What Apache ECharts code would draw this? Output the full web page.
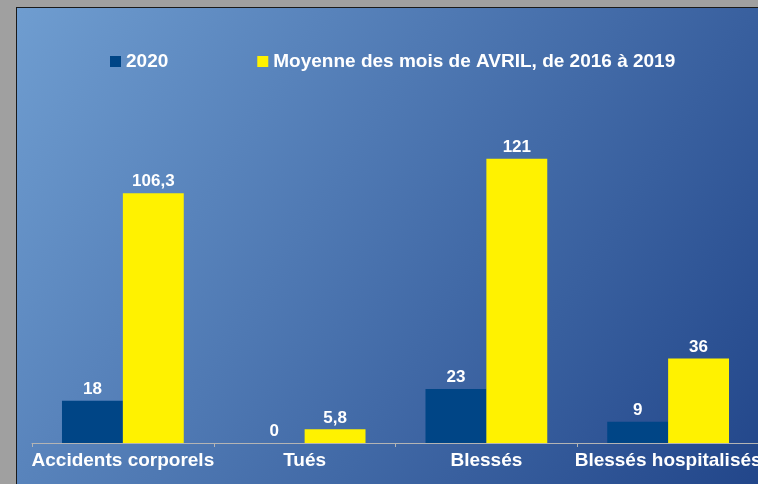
<!DOCTYPE html>
<html>
<head>
<meta charset="utf-8">
<script src="https://cdn.jsdelivr.net/npm/echarts@6/dist/echarts.min.js"></script>
<style>
  html, body { margin: 0; padding: 0; background: #a0a0a0; }
  #frame {
    position: absolute; left: 16px; top: 7px;
    width: 742px; height: 477px;
    border-left: 1px solid #1a1a1a; border-top: 1px solid #1a1a1a;
  }
  #chart { width: 742px; height: 477px; }
</style>
</head>
<body>
<div id="frame"><div id="chart"></div></div>
<script>
const categories = ['Accidents corporels', 'Tués', 'Blessés', 'Blessés hospitalisés'];
const values2020 = [18, 0, 23, 9];
const valuesAvg = [106.3, 5.8, 121, 36];
const seriesNames = ['2020', 'Moyenne des mois de AVRIL, de 2016 à 2019'];

const chart = echarts.init(document.getElementById('chart'));
const font = '"Liberation Sans", Arial, sans-serif';

const labelStyle = {
  show: true,
  position: 'top',
  distance: 3,
  color: '#ffffff',
  fontFamily: font,
  fontWeight: 'bold',
  fontSize: 17,
  formatter: p => String(p.value).replace('.', ',')
};

const option = {
  animation: false,
  backgroundColor: new echarts.graphic.LinearGradient(0, 0, 1, 1, [
    { offset: 0, color: '#6f9dd0' },
    { offset: 1, color: '#22468a' }
  ]),
  legend: {
    data: seriesNames,
    left: 88,
    top: 39,
    itemWidth: 11,
    itemHeight: 11,
    itemGap: 89,
    icon: 'rect',
    textStyle: {
      color: '#ffffff',
      fontFamily: font,
      fontWeight: 'bold',
      fontSize: 19,
      padding: [0, 0, 0, 0]
    }
  },
  grid: {
    left: 15,
    right: 0,
    top: 106,
    bottom: 42,
    outerBoundsMode: 'none'
  },
  xAxis: {
    type: 'category',
    data: categories,
    axisLine: { lineStyle: { color: '#b4b4b4', width: 1 } },
    axisTick: { show: true, length: 4, lineStyle: { color: '#b4b4b4' } },
    axisLabel: {
      interval: 0,
      color: '#ffffff',
      fontFamily: font,
      fontWeight: 'bold',
      fontSize: 19,
      margin: 8
    }
  },
  yAxis: {
    type: 'value',
    min: 0,
    max: 140,
    show: false,
    splitLine: { show: false }
  },
  series: [
    {
      name: seriesNames[0],
      type: 'bar',
      data: values2020,
      barGap: '0%',
      barCategoryGap: '33%',
      itemStyle: { color: '#004586' },
      label: labelStyle
    },
    {
      name: seriesNames[1],
      type: 'bar',
      data: valuesAvg,
      barGap: '0%',
      barCategoryGap: '33%',
      itemStyle: { color: '#fff200' },
      label: labelStyle
    }
  ]
};

chart.setOption(option);
</script>
</body>
</html>
